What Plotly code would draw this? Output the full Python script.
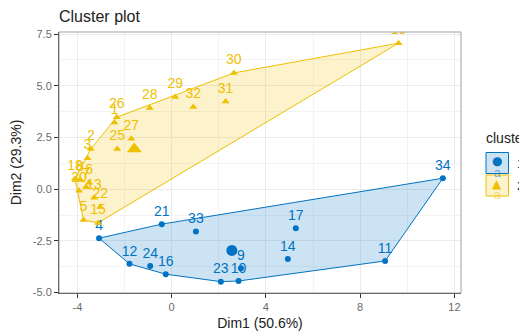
import plotly.graph_objects as go

# ---- data ----
labels_c1 = ["4", "9", "10", "11", "12", "14", "16", "17", "21", "23", "24", "33", "34"]
x_c1 = [-3.08, 2.94, 2.84, 9.06, -1.79, 4.93, -0.25, 5.27, -0.42, 2.09, -0.91, 1.03, 11.51]
y_c1 = [-2.37, -3.82, -4.44, -3.47, -3.61, -3.37, -4.11, -1.89, -1.69, -4.47, -3.71, -2.05, 0.53]

labels_c2 = ["1", "2", "3", "5", "6", "7", "8", "13", "15", "18", "19", "20", "22",
             "25", "26", "27", "28", "29", "30", "31", "32"]
x_c2 = [-2.43, -3.43, -3.57, -3.74, -3.50, -3.63, -3.88, -3.29, -3.12, -4.10, 9.63, -3.93,
        -3.03, -2.31, -2.33, -1.71, -0.93, 0.15, 2.64, 2.29, 0.92]
y_c2 = [3.22, 1.94, 1.50, -1.49, 0.31, 0.11, 0.45, -0.42, -1.63, 0.50, 7.06, -0.08,
        -0.86, 1.94, 3.48, 2.44, 3.92, 4.46, 5.62, 4.24, 3.97]

x_ticks = [-4, 0, 4, 8, 12]
x_ticktext = ["-4", "0", "4", "8", "12"]
y_ticks = [-5, -2.5, 0, 2.5, 5, 7.5]
y_ticktext = ["-5.0", "-2.5", "0.0", "2.5", "5.0", "7.5"]

BLUE = "#0073C2"
YELLOW = "#EFC000"

# the page body adds an 8px offset; the figure is sized so that it ends at the window edge
OFF = 8
W, H = 527 - OFF, 331 - OFF
PL, PR, PT, PB = 59 - OFF, 461 - OFF, 32 - OFF, 293 - OFF  # plot-area edges in figure px


def convex_hull(xs, ys):
    pts = sorted(set(zip(xs, ys)))

    def cross(o, a, b):
        return (a[0] - o[0]) * (b[1] - o[1]) - (a[1] - o[1]) * (b[0] - o[0])

    lower = []
    for p in pts:
        while len(lower) >= 2 and cross(lower[-2], lower[-1], p) <= 0:
            lower.pop()
        lower.append(p)
    upper = []
    for p in reversed(pts):
        while len(upper) >= 2 and cross(upper[-2], upper[-1], p) <= 0:
            upper.pop()
        upper.append(p)
    h = lower[:-1] + upper[:-1]
    h.append(h[0])
    return [p[0] for p in h], [p[1] for p in h]


fig = go.Figure()

clusters = [
    (labels_c1, x_c1, y_c1, BLUE, "rgba(0,115,194,0.2)", "circle", 6, 11),
    (labels_c2, x_c2, y_c2, YELLOW, "rgba(239,192,0,0.2)", "triangle-up", 7, 13),
]

for labs, xs, ys, col, fillcol, sym, msize, csize in clusters:
    hx, hy = convex_hull(xs, ys)
    fig.add_trace(go.Scatter(x=hx, y=hy, mode="lines", fill="toself",
                             fillcolor=fillcol, line=dict(color=col, width=1),
                             hoverinfo="skip", showlegend=False))
for labs, xs, ys, col, fillcol, sym, msize, csize in clusters:
    fig.add_trace(go.Scatter(x=xs, y=ys, mode="markers+text", text=labs,
                             textposition="top center",
                             textfont=dict(family="Liberation Sans, Arial", size=14, color=col),
                             marker=dict(symbol=sym, size=msize, color=col),
                             showlegend=False))
    cx = sum(xs) / len(xs)
    cy = sum(ys) / len(ys)
    fig.add_trace(go.Scatter(x=[cx], y=[cy], mode="markers",
                             marker=dict(symbol=sym, size=csize, color=col),
                             showlegend=False))

axis_common = dict(
    showgrid=True, gridcolor="#EBEBEB", gridwidth=1,
    zeroline=False, showline=True, linecolor="#333333", linewidth=1,
    ticks="outside", ticklen=4, tickcolor="#333333", tickwidth=1,
    tickfont=dict(family="Liberation Sans, Arial", size=11, color="#6b6b6b"),
    tickmode="array", automargin=False,
)

fig.update_layout(
    width=W, height=H,
    margin=dict(l=PL, r=W - PR, t=PT, b=H - PB),
    paper_bgcolor="white", plot_bgcolor="white",
    showlegend=False,
    font=dict(family="Liberation Sans, Arial", color="#222222"),
    title=dict(text="Cluster plot", x=0, xref="paper", xanchor="left",
               y=1 - (16.5 - OFF) / H, yref="container", yanchor="middle",
               font=dict(size=16, color="#222222")),
    xaxis=dict(range=[-4.78, 12.28], tickvals=x_ticks, ticktext=x_ticktext,
               minor=dict(tickmode="array", tickvals=[-2, 2, 6, 10], showgrid=True,
                          gridcolor="#F3F3F3", gridwidth=1, ticks=""),
               title=dict(text="Dim1 (50.6%)", font=dict(size=14, color="#222222")),
               **axis_common),
    yaxis=dict(range=[-5.02, 7.6], tickvals=y_ticks, ticktext=y_ticktext,
               minor=dict(tickmode="array", tickvals=[-3.75, -1.25, 1.25, 3.75, 6.25],
                          showgrid=True, gridcolor="#F3F3F3", gridwidth=1, ticks=""),
               title=dict(text="Dim2 (29.3%)", font=dict(size=14, color="#222222")),
               **axis_common),
)

# panel border (top/right grey)
fig.add_shape(type="rect", xref="paper", yref="paper", x0=0, x1=1, y0=0, y1=1,
              line=dict(color="#A0A0A0", width=1), fillcolor="rgba(0,0,0,0)", layer="above")


# ---- custom legend (positions given in reference-window pixels) ----
def px_x(px):
    return (px - OFF - PL) / float(PR - PL)


def px_y(py):
    return (PB - (py - OFF)) / float(PB - PT)


fig.add_annotation(text="cluster", xref="paper", yref="paper", x=px_x(484), y=px_y(138),
                   xanchor="left", yanchor="middle", showarrow=False,
                   font=dict(size=14, color="#222222"))
legend_items = [
    ("1", BLUE, "rgba(0,115,194,0.2)", "●", 152.5, 173.5),
    ("2", YELLOW, "rgba(239,192,0,0.2)", "▲", 175.0, 196.0),
]
for lab, col, fillcol, glyph, top, bot in legend_items:
    fig.add_shape(type="rect", xref="paper", yref="paper",
                  x0=px_x(486), x1=px_x(508.5), y0=px_y(bot), y1=px_y(top),
                  line=dict(color=col, width=1), fillcolor=fillcol)
    mid = (top + bot) / 2
    fig.add_annotation(text="a", xref="paper", yref="paper", x=px_x(497.2), y=px_y(bot - 1),
                       xanchor="center", yanchor="middle", showarrow=False,
                       font=dict(size=12, color=fillcol.replace("0.2)", "0.55)")))
    fig.add_annotation(text=glyph, xref="paper", yref="paper", x=px_x(497.2), y=px_y(mid - 2),
                       xanchor="center", yanchor="middle", showarrow=False,
                       font=dict(family="DejaVu Sans", size=12, color=col))
    fig.add_annotation(text=lab, xref="paper", yref="paper", x=px_x(520), y=px_y(mid),
                       xanchor="center", yanchor="middle", showarrow=False,
                       font=dict(size=13, color="#222222"))

fig.write_html("out.html")
